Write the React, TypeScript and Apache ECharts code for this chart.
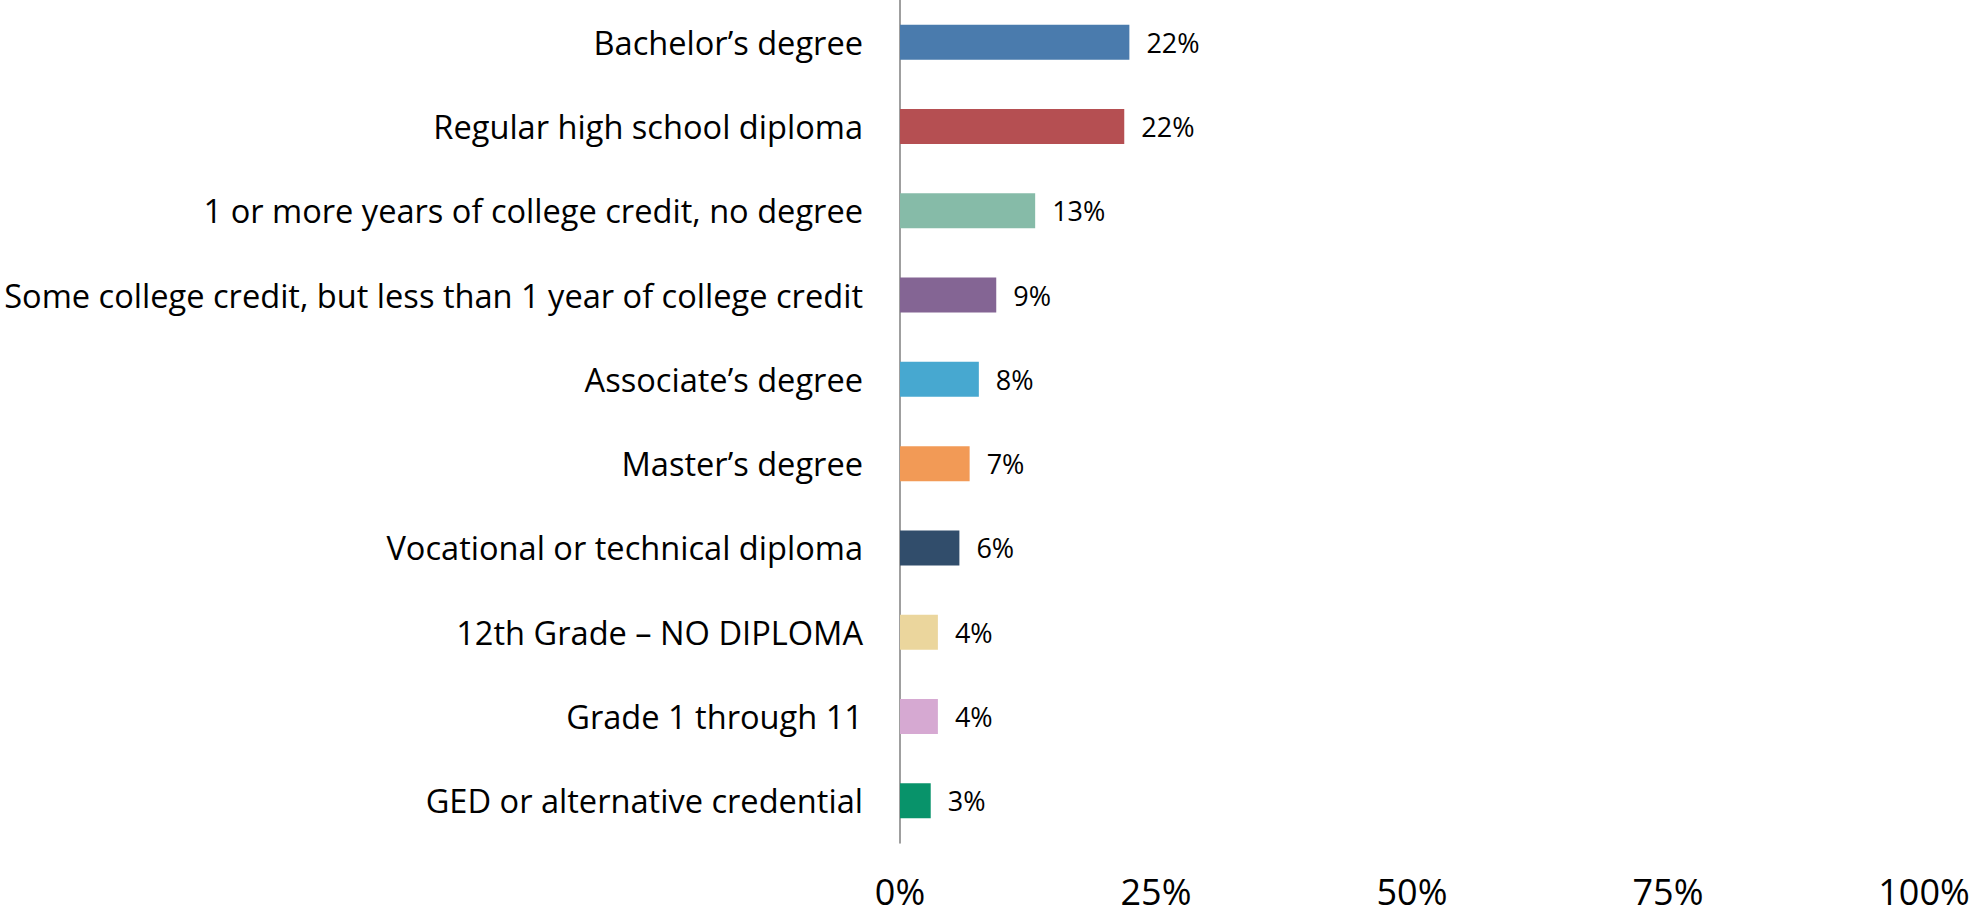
import React, { useEffect, useRef } from "react";
import * as echarts from "echarts";

const categories = [
  "Bachelor’s degree",
  "Regular high school diploma",
  "1 or more years of college credit, no degree",
  "Some college credit, but less than 1 year of college credit",
  "Associate’s degree",
  "Master’s degree",
  "Vocational or technical diploma",
  "12th Grade – NO DIPLOMA",
  "Grade 1 through 11",
  "GED or alternative credential",
];

const values = [22.4, 21.9, 13.2, 9.4, 7.7, 6.8, 5.8, 3.7, 3.7, 3.0];

const barColors = [
  "#4A7BAD",
  "#B54F52",
  "#86BBA8",
  "#846594",
  "#47A8D0",
  "#F29A56",
  "#314D6B",
  "#EBD69D",
  "#D6A9D2",
  "#08936A",
];

const xTicks = { min: 0, max: 100, interval: 25 };

const FONT = "'Open Sans', 'Noto Sans', sans-serif";

export default function App() {
  const ref = useRef<HTMLDivElement>(null);

  useEffect(() => {
    document.body.style.margin = "0";
    if (!ref.current) return;
    const chart = echarts.init(ref.current, undefined, { renderer: "svg" });
    chart.setOption({
      animation: false,
      backgroundColor: "#ffffff",
      grid: { left: 900, right: 50, top: 0, bottom: 74, containLabel: false },
      xAxis: {
        type: "value",
        min: xTicks.min,
        max: xTicks.max,
        interval: xTicks.interval,
        axisLine: { show: false },
        axisTick: { show: false },
        splitLine: { show: false },
        axisLabel: {
          formatter: "{value}%",
          fontFamily: FONT,
          fontSize: 36,
          lineHeight: 36,
          color: "#000",
          margin: 30,
        },
      },
      yAxis: {
        type: "category",
        inverse: true,
        data: categories,
        axisLine: { show: true, lineStyle: { color: "#7f7f7f", width: 1.5 } },
        axisTick: { show: false },
        axisLabel: {
          fontFamily: FONT,
          fontSize: 32.6,
          color: "#000",
          margin: 37,
        },
      },
      series: [
        {
          type: "bar",
          barWidth: 35,
          data: values.map((v, i) => ({
            value: v,
            itemStyle: { color: barColors[i] },
          })),
          label: {
            show: true,
            position: "right",
            distance: 17,
            fontFamily: FONT,
            fontSize: 27,
            color: "#000",
            formatter: (p: any) => `${Math.round(p.value)}%`,
          },
        },
      ],
    });
    return () => chart.dispose();
  }, []);

  return <div ref={ref} style={{ width: 1974, height: 917 }} />;
}
